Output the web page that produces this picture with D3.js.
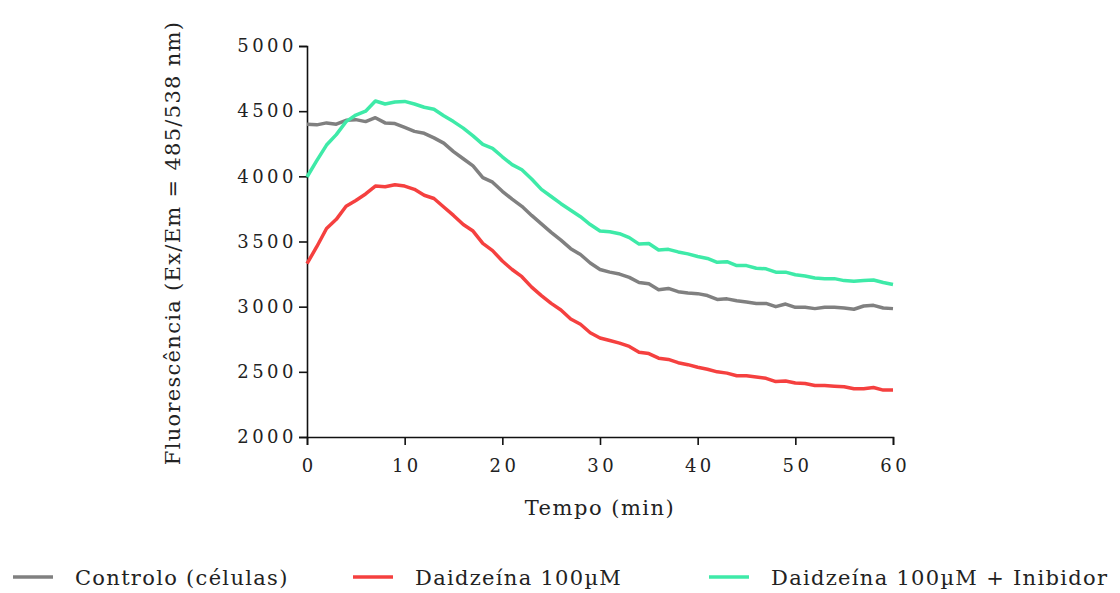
<!DOCTYPE html>
<html><head><meta charset="utf-8">
<script src="https://cdn.jsdelivr.net/npm/d3@7"></script>
<style>body{margin:0;background:#fff}</style>
</head><body><svg id="c" width="1120" height="593"></svg>
<script>
const time = d3.range(0, 61);
const controlo = [4400,4395,4410,4400,4430,4435,4420,4450,4410,4405,4375,4345,4330,4295,4255,4190,4135,4080,3990,3955,3885,3825,3770,3700,3635,3570,3510,3445,3400,3335,3285,3265,3250,3225,3185,3175,3130,3140,3115,3105,3100,3085,3055,3060,3045,3035,3025,3025,3000,3020,2995,2995,2985,2995,2995,2990,2980,3005,3010,2990,2985];
const daidzeina = [3330,3460,3600,3670,3770,3815,3865,3925,3920,3935,3925,3900,3855,3830,3765,3700,3630,3580,3485,3430,3350,3285,3230,3150,3085,3025,2975,2905,2865,2800,2760,2740,2720,2695,2650,2640,2605,2595,2570,2555,2535,2520,2500,2490,2470,2470,2460,2450,2425,2430,2415,2410,2395,2395,2390,2385,2370,2370,2380,2360,2360];
const inibidor = [3995,4120,4240,4320,4420,4470,4500,4578,4555,4570,4575,4555,4530,4515,4465,4420,4370,4310,4245,4215,4150,4090,4050,3980,3900,3845,3790,3740,3690,3630,3580,3575,3560,3530,3480,3485,3435,3440,3420,3405,3385,3370,3340,3345,3315,3315,3295,3290,3265,3265,3245,3235,3220,3215,3215,3200,3195,3200,3205,3185,3170];
const seriesNames = ["Controlo (células)", "Daidzeína 100µM", "Daidzeína 100µM + Inibidor"];
const seriesColors = ["#808080", "#f5403f", "#3eeaa8"];
const xTicks = [0,10,20,30,40,50,60];
const yTicks = [2000,2500,3000,3500,4000,4500,5000];

const FONT = "DejaVu Serif";
const svg = d3.select("#c");
const x = d3.scaleLinear().domain([0,60]).range([307,893]);
const y = d3.scaleLinear().domain([2000,5000]).range([437,46]);

const ax = svg.append("g").attr("transform","translate(0,437)")
  .call(d3.axisBottom(x).tickValues(xTicks).tickFormat(d3.format("d")).tickSize(8).tickPadding(11));
const ay = svg.append("g").attr("transform","translate(307,0)")
  .call(d3.axisLeft(y).tickValues(yTicks).tickFormat(d3.format("d")).tickSize(8).tickPadding(2));
[ax, ay].forEach(a => {
  a.attr("font-family", null).attr("font-size", null);
  a.select(".domain").attr("stroke","#111").attr("stroke-width",1.6);
  a.selectAll(".tick line").attr("stroke","#111").attr("stroke-width",1.6);
  a.selectAll(".tick text").attr("font-family",FONT).attr("font-size",18).attr("letter-spacing","3.5px").attr("fill","#222");
});
ax.selectAll(".tick text").attr("dy","0.9em").attr("dx","1.7px");

const data = [controlo, daidzeina, inibidor];
const line = d3.line().x((d,i)=>x(time[i])).y(d=>y(d));
data.forEach((s,k)=>{
  svg.append("path").datum(s).attr("d",line).attr("fill","none")
    .attr("stroke",seriesColors[k]).attr("stroke-width",3.5).attr("stroke-linejoin","round");
});

svg.append("text").attr("x",600).attr("y",515).attr("text-anchor","middle").attr("font-family",FONT)
  .attr("font-size",21).attr("letter-spacing","1.5px").attr("fill","#222").text("Tempo (min)");
svg.append("text").attr("transform","translate(180,243) rotate(-90)").attr("text-anchor","middle").attr("font-family",FONT)
  .attr("font-size",21).attr("letter-spacing","1.3px").attr("fill","#222").text("Fluorescência (Ex/Em = 485/538 nm)");

const legX = [13, 353, 709];
seriesNames.forEach((n,k)=>{
  svg.append("line").attr("x1",legX[k]).attr("x2",legX[k]+40).attr("y1",577).attr("y2",577)
    .attr("stroke",seriesColors[k]).attr("stroke-width",3.5);
  svg.append("text").attr("x",legX[k]+62).attr("y",585).attr("font-family",FONT)
    .attr("font-size",21).attr("letter-spacing","1.3px").attr("fill","#222").text(n);
});
</script></body></html>
